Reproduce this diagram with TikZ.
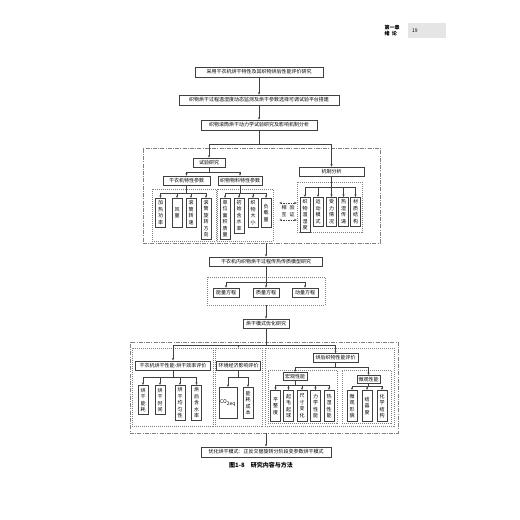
\documentclass[tikz,border=0pt]{standalone}
\usepackage{fontspec}
\setmainfont{Noto Sans CJK SC}
\usetikzlibrary{arrows.meta}
\definecolor{linegray}{gray}{0.25}
\definecolor{dashgray}{gray}{0.5}
\definecolor{pagegray}{gray}{0.9}
\newcommand\bxfont{\fontsize{5}{6.5}\selectfont}
\tikzset{
  box/.style={draw=linegray, line width=0.5pt, font=\bxfont, inner sep=1pt, minimum height=9pt},
  thickbox/.style={box, line width=0.9pt},
  vbox/.style={draw=linegray, line width=0.5pt, font=\bxfont, align=center, anchor=north,
    minimum width=10pt, minimum height=29pt, inner xsep=1pt, inner ysep=2pt},
  thickvbox/.style={vbox, line width=0.9pt},
  dashbox/.style={draw=dashgray, line width=0.5pt, inner sep=0pt, dash pattern=on 4pt off 1.2pt on 1pt off 1.2pt},
  dotbox/.style={draw=dashgray, line width=0.5pt, inner sep=0pt, dash pattern=on 1pt off 1pt},
  ln/.style={draw=linegray, line width=0.5pt},
  arr/.style={ln, -{Stealth[length=2.5pt,width=2pt]}},
  relarr/.style={ln, {Stealth[length=2.5pt,width=2pt]}-{Stealth[length=2.5pt,width=2pt]}, dash pattern=on 1.5pt off 1pt},
}
\begin{document}
\begin{tikzpicture}[x=1pt,y=-1pt]
        \useasboundingbox[fill=white] (0,0) rectangle (520,520);
        % page header
        \draw (392,30.5) node[font=\fontsize{5}{6.5}\selectfont\bfseries, align=left, inner sep=0pt] (chap) {第一章\\绪\ \ 论};
        \draw (427,30.5) node[fill=pagegray, minimum width=38pt, minimum height=15pt, inner sep=0pt, font=\fontsize{5}{6}\selectfont] (page) {\makebox[30pt][l]{19}};

        \draw (259,72) node[box, minimum width=128pt, minimum height=10pt] (goal) {采用干衣机烘干特性及其织物烘后性能评价研究};
        \draw (259,100) node[box, minimum width=160pt, minimum height=10pt] (rig) {织物烘干过程温湿度动态监测及烘干参数选择可调试验平台搭建};
        \draw (259,125) node[box, minimum width=116pt, minimum height=10pt] (kin) {织物滚筒烘干动力学试验研究及影响机制分析};
        \draw[arr] (goal)--(rig);
        \draw[arr] (rig)--(kin);

        % experiment and mechanism
        \draw (261.5,195.5) node[dashbox, minimum width=237pt, minimum height=95pt] (studyframe) {};
        \draw (209,162.5) node[box, minimum width=32pt] (test) {试验研究};
        \draw (331.5,171.5) node[box, minimum width=65pt] (mech) {机制分析};
        \coordinate (split) at (259,144);
        \draw[ln] (kin)--(split);
        \draw[arr] (split) -| (test.north);
        \draw[arr] (split) -| (mech.north);

        \draw (186.5,180.5) node[box, minimum width=47pt] (dryer) {干衣机特性参数};
        \draw (240,180.5) node[box, minimum width=44pt] (fabric) {织物物料特性参数};
        \coordinate (testbus) at (209,172);
        \draw[ln] (test)--(testbus);
        \draw[arr] (testbus) -| (dryer.north);
        \draw[arr] (testbus) -| (fabric.north);

        \draw (184,215) node[dotbox, minimum width=64pt, minimum height=52pt] (dryergrp) {};
        \draw (245,215) node[dotbox, minimum width=56pt, minimum height=52pt] (fabricgrp) {};
        \draw (329.5,207) node[dotbox, minimum width=65pt, minimum height=50pt] (mechgrp) {};

        \draw (160.5,198) node[vbox] (heat) {加\\热\\功\\率};
        \draw (177,198) node[vbox] (air) {风\\量};
        \draw (191,198) node[vbox] (speed) {滚\\筒\\转\\速};
        \draw (206,198) node[vbox] (dir) {滚\\筒\\旋\\转\\方\\向};
        \coordinate (dryerbus) at (186.5,193);
        \draw[ln] (dryer)--(dryerbus);
        \foreach \n in {heat,air,speed,dir} \draw[arr] (dryerbus) -| (\n.north);

        \draw (225,198) node[vbox] (gsm) {单\\位\\面\\积\\质\\量};
        \draw (239,198) node[vbox] (moist) {初\\始\\含\\水\\率};
        \draw (253,198) node[vbox] (size) {织\\物\\大\\小};
        \draw (266,198) node[vbox] (load) {负\\载\\量};
        \coordinate (fabricbus) at (240,193);
        \draw[ln] (fabric)--(fabricbus);
        \foreach \n in {gsm,moist,size,load} \draw[arr] (fabricbus) -| (\n.north);

        \draw (305,197) node[thickvbox] (temp) {织\\物\\温\\湿\\度};
        \draw (318,197) node[vbox] (motion) {运\\动\\模\\式};
        \draw (331.5,197) node[vbox] (force) {受\\力\\情\\况};
        \draw (343.5,197) node[vbox] (heatmass) {热\\湿\\传\\递};
        \draw (355.5,197) node[vbox] (struct) {材\\质\\结\\构};
        \coordinate (mechbus) at (331.5,187);
        \draw[ln] (mech)--(mechbus);
        \foreach \n in {temp,motion,force,heatmass,struct} \draw[arr] (mechbus) -| (\n.north);

        \draw (284,211) node[font=\bxfont, align=center, inner sep=0pt] (mutual) {相\\互};
        \draw (292,211) node[font=\bxfont, align=center, inner sep=0pt] (verify) {验\\证};
        \draw[relarr] ([xshift=6pt,yshift=12pt]fabricgrp.east) -- ([yshift=12pt]fabricgrp.east -| mechgrp.west);
        \draw[relarr] ([xshift=6pt,yshift=-5pt]fabricgrp.east) -- ([yshift=-5pt]fabricgrp.east -| mechgrp.west);

        % model
        \draw (266,261.5) node[box, minimum width=113pt] (model) {干衣机内织物烘干过程传热传质模型研究};
        \draw[arr] (studyframe.south -| model.north)--(model.north);
        \draw (266,291) node[dotbox, minimum width=118pt, minimum height=28pt] (eqframe) {};
        \draw (226,292.5) node[box, minimum width=26pt] (energy) {能量方程};
        \draw (266,292.5) node[box, minimum width=26pt] (mass) {质量方程};
        \draw (305,292.5) node[box, minimum width=26pt] (momentum) {动量方程};
        \coordinate (eqbus) at (266,282);
        \draw[ln] (model)--(eqbus);
        \foreach \n in {energy,mass,momentum} \draw[arr] (eqbus) -| (\n.north);

        \draw (266,323.5) node[box, minimum width=46pt] (opt) {烘干模式优化研究};
        \draw[arr] (eqframe.south)--(opt.north);

        % evaluation
        \draw (264,387.5) node[dashbox, minimum width=268pt, minimum height=91pt] (evalframe) {};
        \draw (172.5,387) node[dotbox, minimum width=81pt, minimum height=78pt] (effframe) {};
        \draw (238.5,387) node[dotbox, minimum width=47pt, minimum height=78pt] (envframe) {};
        \draw (329.5,387) node[dotbox, minimum width=129pt, minimum height=78pt] (qualframe) {};
        \draw (302.5,396.5) node[dotbox, minimum width=69pt, minimum height=53pt] (macroframe) {};
        \draw (366.5,396.5) node[dotbox, minimum width=49pt, minimum height=53pt] (microframe) {};

        \draw (173,365.5) node[thickbox, minimum width=75pt] (effhead) {干衣机烘干性能-烘干效率评价};
        \draw (238.5,365.5) node[thickbox, minimum width=44pt] (envhead) {环境经济影响评价};
        \draw (335.5,358) node[thickbox, minimum width=45pt, minimum height=8.5pt] (qualhead) {烘后织物性能评价};
        \coordinate (evalbus) at (266,345);
        \draw[ln] (opt)--(evalbus);
        \draw[arr] (evalbus) -| (effhead.north);
        \draw[arr] (evalbus) -| (envframe.north);
        \draw[arr] (evalbus) -| (qualhead.north);

        \draw (143,385) node[thickvbox] (euse) {烘\\干\\能\\耗};
        \draw (160,385) node[thickvbox] (time) {烘\\干\\时\\间};
        \draw (180,385) node[thickvbox] (even) {烘\\干\\均\\匀\\性};
        \draw (196.5,385) node[thickvbox] (resid) {烘\\后\\含\\水\\率};
        \coordinate (effbus) at (173,377);
        \draw[ln] (effhead)--(effbus);
        \foreach \n in {euse,time,even,resid} \draw[arr] (effbus) -| (\n.north);

        \draw (228,387) node[thickvbox, minimum width=18pt, minimum height=31pt] (co2) {CO$_{\mathrm{2eq}}$};
        \draw (248,387) node[thickvbox, minimum height=31pt] (cost) {能\\耗\\成\\本};
        \coordinate (envbus) at (238.5,377);
        \draw[ln] (envhead)--(envbus);
        \foreach \n in {co2,cost} \draw[arr] (envbus) -| (\n.north);

        \draw (295,376.5) node[thickbox, minimum width=24pt, minimum height=8pt] (macro) {宏观性能};
        \draw (368.5,379.5) node[thickbox, minimum width=23pt, minimum height=8pt] (micro) {微观性能};
        \coordinate (qualbus) at (335.5,367);
        \draw[ln] (qualhead)--(qualbus);
        \draw[arr] (qualbus) -| (macro.north);
        \draw[arr] (qualbus) -| (micro.north);

        \draw (275.5,390) node[thickvbox, minimum height=31pt] (flat) {平\\整\\度};
        \draw (288.5,390) node[thickvbox, minimum height=31pt] (pill) {起\\毛\\起\\球};
        \draw (302,390) node[thickvbox, minimum height=31pt] (dim) {尺\\寸\\变\\化};
        \draw (315.5,390) node[thickvbox, minimum height=31pt] (mech2) {力\\学\\性\\能};
        \draw (329,390) node[thickvbox, minimum height=31pt] (comfort) {热\\湿\\性\\能};
        \coordinate (macrobus) at (295,385);
        \draw[ln] (macro)--(macrobus);
        \foreach \n in {flat,pill,dim,mech2,comfort} \draw[arr] (macrobus) -| (\n.north);

        \draw (352,390) node[thickvbox, minimum height=31pt] (morph) {微\\观\\形\\貌};
        \draw (367,390) node[thickvbox, minimum height=31pt] (cryst) {结\\晶\\度};
        \draw (382,390) node[thickvbox, minimum height=31pt] (chem) {化\\学\\结\\构};
        \coordinate (microbus) at (368.5,386.5);
        \draw[ln] (micro)--(microbus);
        \foreach \n in {morph,cryst,chem} \draw[arr] (microbus) -| (\n.north);

        % result
        \draw (266,452) node[thickbox, minimum width=130pt, minimum height=10pt] (final) {优化烘干模式：正反交替旋转分阶段变参数烘干模式};
        \draw[arr] (evalframe.south -| final.north)--(final.north);
        \draw (261,465) node[font=\fontsize{6}{7}\selectfont\bfseries] (caption) {图1-8\quad 研究内容与方法};
    \end{tikzpicture}
\end{document}
